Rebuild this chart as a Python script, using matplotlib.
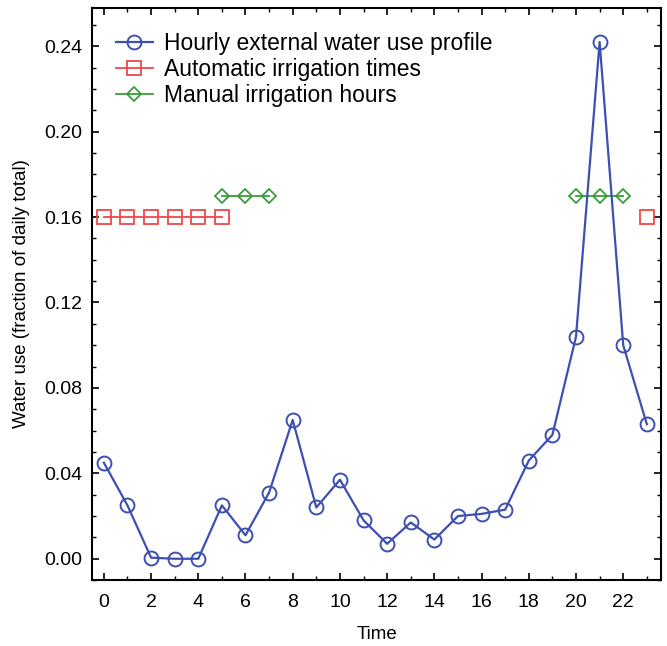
import numpy as np
import matplotlib
matplotlib.use('Agg')
import matplotlib.pyplot as plt
from matplotlib.ticker import MultipleLocator

plt.rcParams['font.family'] = ['Liberation Sans', 'DejaVu Sans']

# Data
hours = list(range(24))
water_use = [0.045, 0.025, 0.0005, 0.0, 0.0, 0.025, 0.011, 0.031, 0.065, 0.024,
             0.037, 0.018, 0.007, 0.017, 0.009, 0.020, 0.021, 0.023, 0.046, 0.058,
             0.104, 0.242, 0.100, 0.063]

auto_hours_a = [0, 1, 2, 3, 4, 5]
auto_hours_b = [23]
auto_level = 0.16

manual_hours_a = [5, 6, 7]
manual_hours_b = [20, 21, 22]
manual_level = 0.17

blue = '#3d4fb0'
red = '#f04848'
green = '#3c9c3c'

fig = plt.figure(figsize=(6.67, 6.46), dpi=100)
ax = fig.add_axes([0.138, 0.102, 0.853, 0.886])

ax.plot(hours, water_use, color=blue, lw=1.6, marker='o', ms=10, mfc='none',
        mec=blue, mew=1.4, label='Hourly external water use profile', zorder=3)
ax.plot(auto_hours_a, [auto_level] * len(auto_hours_a), color=red, lw=1.3, marker='s',
        ms=10, mfc='none', mec=red, mew=1.3, label='Automatic irrigation times')
ax.plot(auto_hours_b, [auto_level] * len(auto_hours_b), color=red, lw=1.3, marker='s',
        ms=10, mfc='none', mec=red, mew=1.3)
ax.plot(manual_hours_a, [manual_level] * len(manual_hours_a), color=green, lw=1.3, marker='D',
        ms=7, mfc='none', mec=green, mew=1.3, label='Manual irrigation hours')
ax.plot(manual_hours_b, [manual_level] * len(manual_hours_b), color=green, lw=1.3, marker='D',
        ms=7, mfc='none', mec=green, mew=1.3)

ax.set_xlim(-0.5, 23.6)
ax.set_ylim(-0.01, 0.258)
ax.xaxis.set_major_locator(MultipleLocator(2))
ax.xaxis.set_minor_locator(MultipleLocator(1))
ax.yaxis.set_major_locator(MultipleLocator(0.04))
ax.yaxis.set_minor_locator(MultipleLocator(0.01))
ax.yaxis.set_major_formatter(plt.FormatStrFormatter('%.2f'))
ax.tick_params(which='both', direction='in', top=True, right=True, labelsize=14)
ax.tick_params(which='major', length=5, width=1.2)
ax.tick_params(which='minor', length=3, width=1)
ax.tick_params(axis='x', pad=10)
ax.tick_params(axis='y', pad=7)
for s in ax.spines.values():
    s.set_linewidth(1.5)

ax.set_xlabel('Time', fontsize=13.5, labelpad=11)
ax.set_ylabel('Water use (fraction of daily total)', fontsize=13.5, labelpad=10)

ax.legend(loc='upper left', frameon=False, fontsize=16.5, handlelength=1.6,
          handletextpad=0.5, borderaxespad=0.3, labelspacing=0.12,
          bbox_to_anchor=(0.014, 0.985))

fig.savefig('out.png', dpi=100)
